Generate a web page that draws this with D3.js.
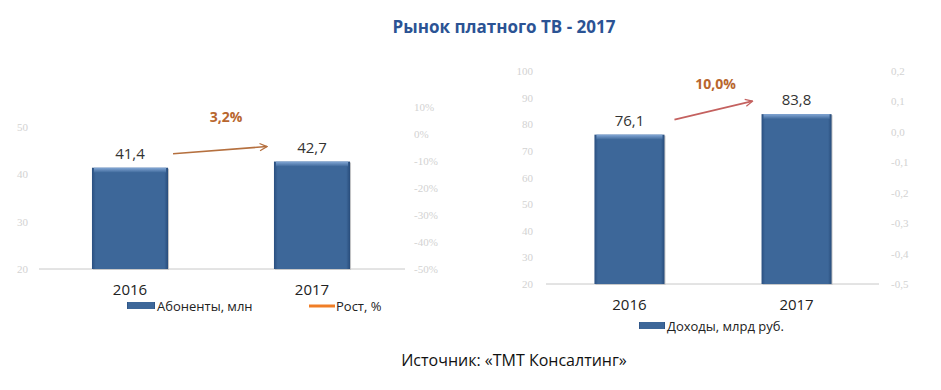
<!DOCTYPE html>
<html lang="ru">
<head>
  <meta charset="UTF-8">
  <title>Рынок платного ТВ - 2017</title>
  <script src="https://cdn.jsdelivr.net/npm/d3@7"></script>
  <style>
    body { margin: 0; background: #fff; }
    text { font-family: "Open Sans", "Noto Sans", sans-serif; }
    text.tick { font-family: "Liberation Serif", "DejaVu Serif", serif; }
  </style>
</head>
<body>
  <script>
    // данные
    const years = ['2016', '2017'];
    const subscribers = [41.4, 42.7];     // Абоненты, млн
    const subsGrowth = [3.2];             // Рост, %
    const revenue = [76.1, 83.8];         // Доходы, млрд руб.
    const revGrowth = [10.0];
    const subsTicks = [20, 30, 40, 50];
    const pctTicks = [0.1, 0, -0.1, -0.2, -0.3, -0.4, -0.5];
    const revTicks = [20, 30, 40, 50, 60, 70, 80, 90, 100];
    const rev2Ticks = [0.2, 0.1, 0, -0.1, -0.2, -0.3, -0.4, -0.5];

    const comma = v => String(v).replace('.', ',').replace('−', '-');
    const fmt1 = d3.format('.1f');

    const svg = d3.select('body').append('svg')
      .attr('width', 941).attr('height', 390);

    const defs = svg.append('defs');
    const grad = defs.append('linearGradient').attr('id', 'barGrad')
      .attr('x1', 0).attr('x2', 1).attr('y1', 0).attr('y2', 0);
    grad.append('stop').attr('offset', '0%').attr('stop-color', '#2a4f80');
    grad.append('stop').attr('offset', '5%').attr('stop-color', '#3d6799');
    grad.append('stop').attr('offset', '95%').attr('stop-color', '#3d6799');
    grad.append('stop').attr('offset', '100%').attr('stop-color', '#284c7b');
    const grad2 = defs.append('linearGradient').attr('id', 'topGrad')
      .attr('x1', 0).attr('x2', 0).attr('y1', 0).attr('y2', 1);
    grad2.append('stop').attr('offset', '0%').attr('stop-color', '#84a8d6');
    grad2.append('stop').attr('offset', '100%').attr('stop-color', '#3d6799');
    const mk = (id, col) => defs.append('marker').attr('id', id)
      .attr('viewBox', '0 0 10 10').attr('refX', 9).attr('refY', 5)
      .attr('markerWidth', 9).attr('markerHeight', 9).attr('orient', 'auto')
      .attr('markerUnits', 'userSpaceOnUse')
      .append('path').attr('d', 'M1,1 L9,5 L1,9').attr('fill', 'none')
      .attr('stroke', col).attr('stroke-width', 1.4);
    mk('arrL', '#b5703f');
    mk('arrR', '#c4615f');

    // заголовок
    svg.append('text').attr('x', 504).attr('y', 33).attr('text-anchor', 'middle')
      .attr('font-size', 17).attr('font-weight', 'bold').attr('fill', '#2b5394')
      .text('Рынок платного ТВ - 2017');

    svg.append('text').attr('x', 514).attr('y', 366).attr('text-anchor', 'middle')
      .attr('font-size', 16).attr('fill', '#111')
      .text('Источник: «ТМТ Консалтинг»');

    function drawBars(g, x, y, vals) {
      const bw = x.bandwidth();
      years.forEach((yr, i) => {
        const x0 = x(yr), y0 = y(vals[i]), h = y.range()[0] - y0;
        g.append('rect').attr('x', x0 + 1).attr('y', y0 + 1).attr('width', bw).attr('height', h)
          .attr('fill', '#c8c8c8');
        g.append('rect').attr('x', x0).attr('y', y0).attr('width', bw).attr('height', h)
          .attr('fill', 'url(#barGrad)');
        g.append('rect').attr('x', x0 + 2).attr('y', y0).attr('width', bw - 4).attr('height', 5)
          .attr('fill', 'url(#topGrad)');
        g.append('text').attr('x', x0 + bw / 2).attr('y', y0 - 9)
          .attr('text-anchor', 'middle').attr('font-size', 15).attr('fill', '#333')
          .text(comma(fmt1(vals[i])));
        g.append('text').attr('x', x0 + bw / 2).attr('y', y.range()[0] + 26)
          .attr('text-anchor', 'middle').attr('font-size', 15).attr('fill', '#222')
          .text(yr);
      });
    }

    function tickLabels(g, y, ticks, xpos, anchor, f) {
      g.selectAll(null).data(ticks).join('text')
        .attr('class', 'tick')
        .attr('x', xpos).attr('y', d => y(d) + 4)
        .attr('text-anchor', anchor)
        .attr('font-size', 11).attr('fill', '#d2d2d2')
        .text(f);
    }

    // ---------- левая диаграмма ----------
    const gL = svg.append('g');
    const xL = d3.scaleBand().domain(years).range([39, 403])
      .paddingInner(0.582).paddingOuter(0.291);
    const yL = d3.scaleLinear().domain([20, 50]).range([269, 127]);
    const yL2 = d3.scaleLinear().domain([-0.5, 0.1]).range([269, 107]);

    tickLabels(gL, yL, subsTicks, 28, 'end', d => d);
    tickLabels(gL, yL2, pctTicks, 414, 'start', d => Math.round(d * 100) + '%');
    gL.append('line').attr('x1', 39).attr('x2', 405).attr('y1', yL(20)).attr('y2', yL(20))
      .attr('stroke', '#c8c8c8');
    drawBars(gL, xL, yL, subscribers);

    const aL = {
      x1: xL(years[0]) + xL.bandwidth() + 5, y1: yL(subscribers[0]) - 14,
      x2: xL(years[1]) - 7, y2: yL(subscribers[1]) - 15
    };
    gL.append('line').attr('x1', aL.x1).attr('y1', aL.y1).attr('x2', aL.x2).attr('y2', aL.y2)
      .attr('stroke', '#b5703f').attr('stroke-width', 1.6).attr('marker-end', 'url(#arrL)');
    gL.append('text').attr('x', (aL.x1 + aL.x2) / 2 + 6).attr('y', (aL.y1 + aL.y2) / 2 - 28)
      .attr('text-anchor', 'middle').attr('font-size', 14).attr('font-weight', 'bold')
      .attr('fill', '#b8662e').text(comma(fmt1(subsGrowth[0])) + '%');

    // легенда
    gL.append('rect').attr('x', 127).attr('y', 302).attr('width', 28).attr('height', 7)
      .attr('fill', 'url(#barGrad)');
    gL.append('text').attr('x', 157).attr('y', 311).attr('font-size', 13).attr('fill', '#222')
      .text('Абоненты, млн');
    gL.append('line').attr('x1', 309).attr('x2', 335).attr('y1', 306).attr('y2', 306)
      .attr('stroke', '#f07e26').attr('stroke-width', 3);
    gL.append('text').attr('x', 336).attr('y', 311).attr('font-size', 13).attr('fill', '#222')
      .text('Рост, %');

    // ---------- правая диаграмма ----------
    const gR = svg.append('g');
    const xR = d3.scaleBand().domain(years).range([546, 880])
      .paddingInner(0.581).paddingOuter(0.29);
    const yR = d3.scaleLinear().domain([20, 100]).range([284, 71]);
    const yR2 = d3.scaleLinear().domain([-0.5, 0.2]).range([284, 71]);

    tickLabels(gR, yR, revTicks, 533, 'end', d => d);
    tickLabels(gR, yR2, rev2Ticks, 891, 'start', d => comma(fmt1(d)));
    gR.append('line').attr('x1', 546).attr('x2', 879).attr('y1', yR(20)).attr('y2', yR(20))
      .attr('stroke', '#c8c8c8');
    drawBars(gR, xR, yR, revenue);

    const aR = {
      x1: xR(years[0]) + xR.bandwidth() + 10, y1: yR(revenue[0]) - 15,
      x2: xR(years[1]) - 9, y2: yR(revenue[1]) - 13
    };
    gR.append('line').attr('x1', aR.x1).attr('y1', aR.y1).attr('x2', aR.x2).attr('y2', aR.y2)
      .attr('stroke', '#c4615f').attr('stroke-width', 1.6).attr('marker-end', 'url(#arrR)');
    gR.append('text').attr('x', (aR.x1 + aR.x2) / 2 + 2).attr('y', (aR.y1 + aR.y2) / 2 - 21)
      .attr('text-anchor', 'middle').attr('font-size', 14).attr('font-weight', 'bold')
      .attr('fill', '#b8662e').text(comma(fmt1(revGrowth[0])) + '%');

    gR.append('rect').attr('x', 639).attr('y', 322).attr('width', 26).attr('height', 7)
      .attr('fill', 'url(#barGrad)');
    gR.append('text').attr('x', 667).attr('y', 331).attr('font-size', 13).attr('fill', '#222')
      .text('Доходы, млрд руб.');
  </script>
</body>
</html>
